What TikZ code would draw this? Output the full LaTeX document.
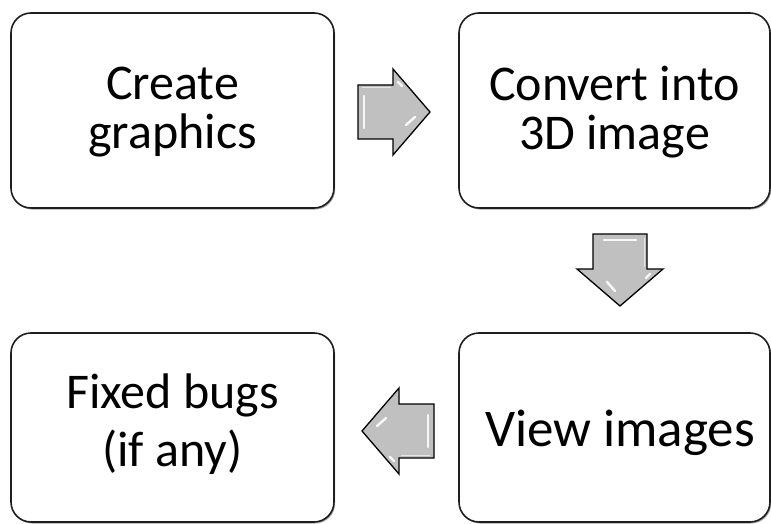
\documentclass[tikz,border=0pt]{standalone}
\usepackage{fontspec}
\setmainfont{Carlito}
\usetikzlibrary{shadows}
\definecolor{arrgray}{RGB}{192,192,192}
\definecolor{boxline}{RGB}{30,30,30}
\tikzset{
  box/.style={draw=boxline, line width=1.6pt, rounded corners=20pt, fill=white,
    drop shadow={shadow xshift=1.2pt, shadow yshift=-1.5pt, opacity=0.35, fill=black}},
  blockarrow/.style={draw=black, line width=1.3pt, line join=miter, fill=arrgray},
  glint/.style={draw=white, line width=2.4pt, line cap=round, opacity=0.9},
  txt/.style={font=\fontsize{50}{49}\selectfont, align=center, inner sep=0pt}
}
\newcommand{\canonarrow}{%
  \draw[blockarrow] (0,-27) -- (35,-27) -- (35,-43) -- (72,0) -- (35,43) -- (35,27) -- (0,27) -- cycle;
  \draw[glint] (6,-16) -- (6,16);
  \draw[glint] (48,13) -- (57,5);
  \draw[glint] (40,-30) -- (44,-26);
  \draw[draw=white, line width=1pt, opacity=0.6] (4,-24) -- (33,-24);
}
\begin{document}
\begin{tikzpicture}[x=1pt, y=-1pt]
\useasboundingbox (0,0) rectangle (771,524);
% boxes
\draw[box] (11,13) rectangle (334,208);
\draw[box] (459,13) rectangle (770,208);
\draw[box] (11,333) rectangle (334,522);
\draw[box] (459,333) rectangle (770,522);
\coordinate (tl) at (172.5,112);
\coordinate (tr) at (614.5,112);
\coordinate (bl) at (172.5,424);
\coordinate (br) at (620,433);
\node[txt] (t1) at (tl) {Create\\graphics};
\node[txt] (t2) at (tr) {Convert into\\3D image};
\node[txt, font=\fontsize{50}{58}\selectfont] (t3) at (bl) {Fixed bugs\\(if any)};
\node[txt, font=\fontsize{53}{53}\selectfont] (t4) at (br) {View images};
% arrows
\begin{scope}[shift={(358,112)}]
  \canonarrow
\end{scope}
\begin{scope}[shift={(620,234)}, rotate=-90]
  \canonarrow
\end{scope}
\begin{scope}[shift={(434,431)}, rotate=180]
  \canonarrow
\end{scope}
\end{tikzpicture}
\end{document}
